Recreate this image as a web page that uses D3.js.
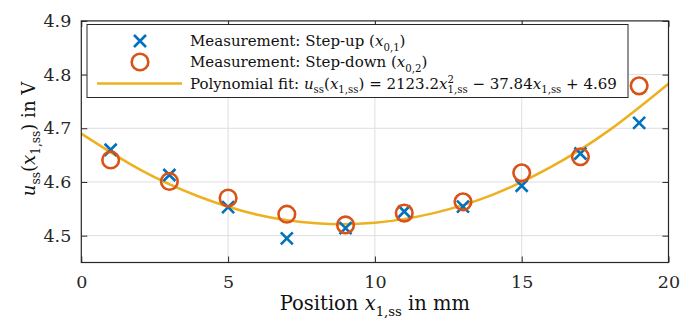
<!DOCTYPE html>
<html>
<head>
<meta charset="utf-8">
<script src="https://cdn.jsdelivr.net/npm/d3@7"></script>
<style>
  body { margin: 0; background: #fff; }
  svg { display: block; }
  svg text { font-family: "DejaVu Serif", "Liberation Serif", serif; }
</style>
</head>
<body>
<div id="chart"></div>
<script>
// data
const positions = [1, 3, 5, 7, 9, 11, 13, 15, 17, 19]
const stepUp = [4.660, 4.613, 4.553, 4.495, 4.514, 4.545, 4.554, 4.593, 4.653, 4.710]
const stepDown = [4.641, 4.601, 4.570, 4.540, 4.520, 4.542, 4.563, 4.617, 4.647, 4.779]
const fitX = [0, 2, 4, 6, 8, 10, 12, 14, 16, 18, 20]
const fitY = [4.690, 4.623, 4.573, 4.539, 4.523, 4.524, 4.542, 4.576, 4.628, 4.697, 4.783]
const xTicks = [0, 5, 10, 15, 20]
const yTicks = [4.5, 4.6, 4.7, 4.8, 4.9]

const W = 698, H = 324
const MARGIN = { LEFT: 81.3, RIGHT: 29.5, TOP: 20.9, BOTTOM: 61.5 }
const BLUE = "#0072BD", ORANGE = "#D95319", YELLOW = "#EDB120"
const INK = "#262626"

const svg = d3.select("#chart").append("svg")
  .attr("width", W)
  .attr("height", H)

const x = d3.scaleLinear().domain([0, 20]).range([MARGIN.LEFT, W - MARGIN.RIGHT])
const y = d3.scaleLinear().domain([4.45, 4.9]).range([H - MARGIN.BOTTOM, MARGIN.TOP])

// grid
const grid = svg.append("g").attr("stroke", "#dedede").attr("stroke-width", 1)
grid.selectAll(".gx").data(xTicks.slice(1, -1)).join("line")
  .attr("x1", d => x(d)).attr("x2", d => x(d))
  .attr("y1", y.range()[0]).attr("y2", y.range()[1])
grid.selectAll(".gy").data(yTicks.slice(0, -1)).join("line")
  .attr("x1", x.range()[0]).attr("x2", x.range()[1])
  .attr("y1", d => y(d)).attr("y2", d => y(d))

// fit curve
const line = d3.line()
  .x((d, i) => x(fitX[i]))
  .y(d => y(d))
  .curve(d3.curveNatural)
svg.append("path")
  .attr("d", line(fitY))
  .attr("fill", "none")
  .attr("stroke", YELLOW)
  .attr("stroke-width", 2.5)

// markers
const crossPath = "M-6,-6L6,6M-6,6L6,-6"
svg.append("g").selectAll("path").data(stepUp).join("path")
  .attr("transform", (d, i) => `translate(${x(positions[i])},${y(d)})`)
  .attr("d", crossPath)
  .attr("stroke", BLUE)
  .attr("stroke-width", 2.6)
  .attr("fill", "none")
svg.append("g").selectAll("circle").data(stepDown).join("circle")
  .attr("cx", (d, i) => x(positions[i]))
  .attr("cy", d => y(d))
  .attr("r", 8.3)
  .attr("stroke", ORANGE)
  .attr("stroke-width", 2.6)
  .attr("fill", "none")

// axes
const TICK = 6
const axisStyle = g => {
  g.attr("font-family", null)
  g.select(".domain").remove()
  g.selectAll(".tick line").attr("stroke", INK).attr("stroke-width", 1)
  g.selectAll(".tick text").attr("fill", INK).attr("font-size", 17.5)
}
svg.append("g")
  .attr("transform", `translate(0,${y.range()[0]})`)
  .call(d3.axisBottom(x).tickValues(xTicks).tickSize(-TICK).tickPadding(13).tickFormat(d3.format("d")))
  .call(axisStyle)
svg.append("g")
  .attr("transform", `translate(0,${y.range()[1]})`)
  .call(d3.axisTop(x).tickValues(xTicks).tickSize(-TICK).tickFormat(""))
  .call(axisStyle)
svg.append("g")
  .attr("transform", `translate(${x.range()[0]},0)`)
  .call(d3.axisLeft(y).tickValues(yTicks).tickSize(-TICK).tickPadding(10).tickFormat(d3.format(".1f")))
  .call(axisStyle)
svg.append("g")
  .attr("transform", `translate(${x.range()[1]},0)`)
  .call(d3.axisRight(y).tickValues(yTicks).tickSize(-TICK).tickFormat(""))
  .call(axisStyle)

svg.append("rect")
  .attr("x", x.range()[0]).attr("y", y.range()[1])
  .attr("width", x.range()[1] - x.range()[0])
  .attr("height", y.range()[0] - y.range()[1])
  .attr("fill", "none")
  .attr("stroke", INK)
  .attr("stroke-width", 1.2)

// rich text: parts are [text, style]; style may hold "i", "sub", "sup", "back"
function rich(g, px, py, parts, size, anchor) {
  const t = g.append("text")
    .attr("x", px).attr("y", py)
    .attr("font-size", size)
    .attr("fill", "#111")
  let cur = 0, lastSupW = 0
  parts.forEach(([s, st = ""]) => {
    const ts = t.append("tspan").text(s)
    let target = 0
    if (st.includes("sub")) target = size * 0.3
    if (st.includes("sup")) target = -size * 0.4
    if (st.includes("i")) ts.attr("font-style", "italic")
    if (target !== 0) ts.attr("font-size", size * 0.68)
    if (target !== cur) ts.attr("dy", target - cur)
    if (st.includes("back")) ts.attr("dx", -lastSupW)
    cur = target
    if (st.includes("sup")) lastSupW = ts.node().getComputedTextLength()
  })
  if (anchor === "middle") {
    const w = t.node().getComputedTextLength()
    t.attr("x", px - w / 2)
  }
  return t
}

// axis labels
rich(svg, x(10), 310, [["Position "], ["x", "i"], ["1,ss", "sub"], [" in mm"]], 19.5, "middle")
const yl = svg.append("g").attr("transform", `translate(35,139) rotate(-90)`)
rich(yl, 0, 0, [["u", "i"], ["ss", "sub"], ["("], ["x", "i"], ["1,ss", "sub"], [") in V"]], 18, "middle")

// legend
const lg = svg.append("g")
lg.append("rect")
  .attr("x", 87).attr("y", 24.5)
  .attr("width", 541).attr("height", 73)
  .attr("fill", "#fff")
  .attr("stroke", INK)
  .attr("stroke-width", 1)
lg.append("path").attr("d", crossPath).attr("transform", "translate(140,41)")
  .attr("stroke", BLUE).attr("stroke-width", 2.6).attr("fill", "none")
lg.append("circle").attr("cx", 140).attr("cy", 62).attr("r", 8.3)
  .attr("stroke", ORANGE).attr("stroke-width", 2.6).attr("fill", "none")
lg.append("line").attr("x1", 97).attr("x2", 182).attr("y1", 83.5).attr("y2", 83.5)
  .attr("stroke", YELLOW).attr("stroke-width", 2.5)

const LS = 15
rich(lg, 190, 46, [["Measurement: Step-up ("], ["x", "i"], ["0,1", "sub"], [")"]], LS)
rich(lg, 190, 67, [["Measurement: Step-down ("], ["x", "i"], ["0,2", "sub"], [")"]], LS)
rich(lg, 190, 88.5, [["Polynomial fit: "], ["u", "i"], ["ss", "sub"], ["("], ["x", "i"], ["1,ss", "sub"],
  [") = 2123.2"], ["x", "i"], ["2", "sup"], ["1,ss", "sub back"], [" − 37.84"], ["x", "i"], ["1,ss", "sub"], [" + 4.69"]], LS)
</script>
</body>
</html>
